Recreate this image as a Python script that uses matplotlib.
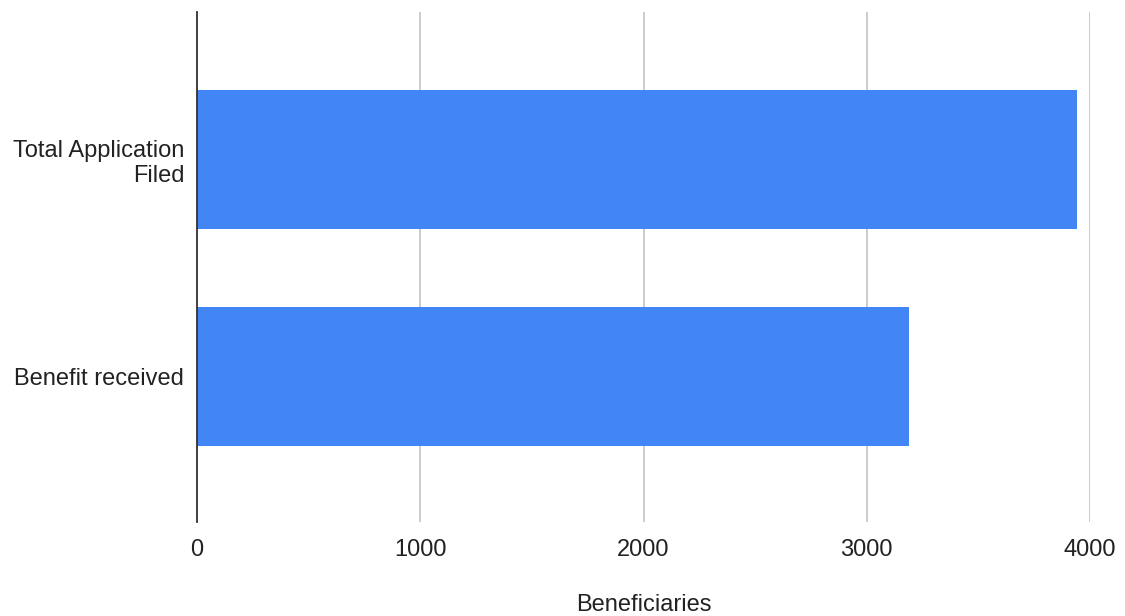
import matplotlib.pyplot as plt

categories = ["Total Application\nFiled", "Benefit received"]
beneficiaries = [3940, 3190]
x_ticks = [0, 1000, 2000, 3000, 4000]

plt.rcParams['font.family'] = ['Liberation Sans', 'DejaVu Sans']

fig = plt.figure(figsize=(11.25, 6.16), dpi=100)
ax = fig.add_axes([0.175, 0.1526, 0.794, 0.828])

pos = list(range(len(categories)))
ax.barh(pos, beneficiaries, height=0.64, color='#4285f4', zorder=3)

ax.set_xlim(0, 4000)
ax.set_ylim(1.67, -0.68)
ax.set_xticks(x_ticks)
ax.set_xticklabels([str(t) for t in x_ticks])
ax.set_yticks(pos)
ax.set_yticklabels(categories, ha='right', multialignment='right')

ax.grid(axis='x', color='#cccccc', lw=1.4, zorder=0)
ax.grid(axis='y', visible=False)
for s in ['top', 'right', 'bottom']:
    ax.spines[s].set_visible(False)
ax.spines['left'].set_color('#333333')
ax.spines['left'].set_linewidth(1.3)
ax.spines['left'].set_zorder(4)

ax.tick_params(axis='both', length=0, labelsize=17, colors='#222222')
ax.tick_params(axis='x', pad=12)
ax.tick_params(axis='y', pad=9)

ax.set_xlabel("Beneficiaries", fontsize=17, color='#222222', labelpad=24)

fig.savefig("out.png", dpi=100, facecolor='white')
plt.close()
